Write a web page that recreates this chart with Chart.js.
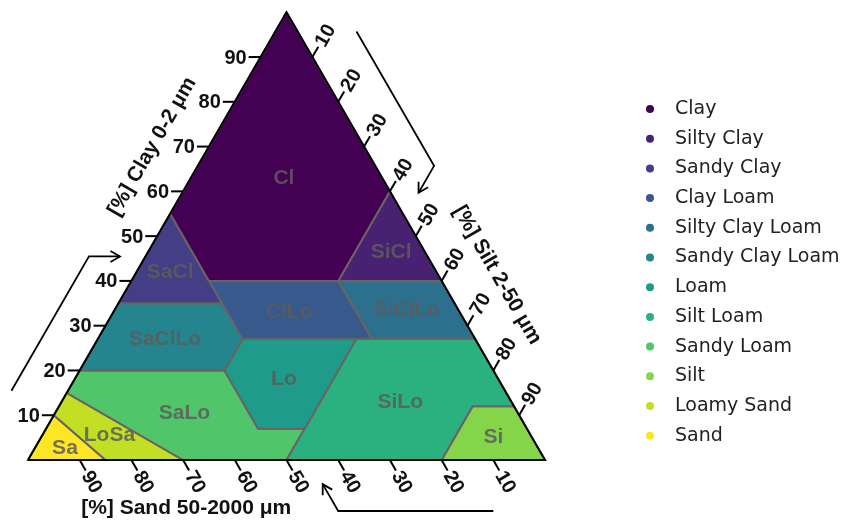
<!DOCTYPE html>
<html><head><meta charset="utf-8">
<script src="https://cdn.jsdelivr.net/npm/chart.js@4/dist/chart.umd.min.js"></script>
<style>html,body{margin:0;padding:0;background:#fff}#wrap{width:842px;height:523px}</style>
</head><body><div id="wrap"><canvas id="c" width="842" height="523"></canvas></div>
<script>
// Soil texture classes
const classNames = ["Clay","Silty Clay","Sandy Clay","Clay Loam","Silty Clay Loam","Sandy Clay Loam","Loam","Silt Loam","Sandy Loam","Silt","Loamy Sand","Sand"];
const classAbbr  = ["Cl","SiCl","SaCl","ClLo","SiClLo","SaClLo","Lo","SiLo","SaLo","Si","LoSa","Sa"];
const classColors = ["#440154","#482173","#433E85","#38598C","#2D708E","#25858E","#1E9B8A","#2BB07F","#51C56A","#85D54A","#C2DF23","#FDE725"];

// Polygons as [sand %, clay %] vertices
const polyClay          = [[0,100],[45,55],[45,40],[20,40],[0,60]];
const polySiltyClay     = [[0,60],[20,40],[0,40]];
const polySandyClay     = [[45,55],[65,35],[45,35],[45,40]];
const polyClayLoam      = [[45,40],[20,40],[20,27],[45,27],[45,35]];
const polySiltyClayLoam = [[20,40],[0,40],[0,27],[20,27]];
const polySandyClayLoam = [[65,35],[80,20],[52,20],[45,27],[45,35]];
const polyLoam          = [[45,27],[23,27],[43,7],[52,7],[52,20]];
const polySiltLoam      = [[23,27],[0,27],[0,12],[8,12],[20,0],[50,0],[43,7]];
const polySandyLoam     = [[80,20],[85,15],[70,0],[50,0],[43,7],[52,7],[52,20]];
const polySilt          = [[0,12],[0,0],[20,0],[8,12]];
const polyLoamySand     = [[85,15],[90,10],[85,0],[70,0]];
const polySand          = [[90,10],[100,0],[85,0]];

// Label positions [sand %, clay %]
const labelPos = [[19,63],[6.5,46.5],[51.5,42],[33,33],[10,33.5],[60,27],[41.5,18],[21.5,13],[64.5,10.5],[7.5,5],[81.5,5.5],[91.5,2.7]];

const tickValues = [10,20,30,40,50,60,70,80,90];
const arrowRange = [10,40];
const outline = [[100,0],[0,0],[0,100],[100,0]];

const polys = [polyClay,polySiltyClay,polySandyClay,polyClayLoam,polySiltyClayLoam,polySandyClayLoam,polyLoam,polySiltLoam,polySandyLoam,polySilt,polyLoamySand,polySand];

const S3 = Math.sqrt(3)/2;
const toXY = (sand, clay) => ({x: 100 - sand - clay/2, y: clay*S3});

// view mapping
const K = 5.17, LEFT = 28, BASE = 460, W = 842, H = 523;

const datasets = polys.map((p,i)=>({
  label: classNames[i],
  data: p.concat([p[0]]).map(([s,c])=>toXY(s,c)),
  showLine: true, fill: 'shape', backgroundColor: classColors[i],
  borderColor: '#6b6363', borderWidth: 2, pointRadius: 0, tension: 0, order: 2
}));
datasets.push({label:'outline', data: outline.map(([s,c])=>toXY(s,c)), showLine:true, fill:false,
  borderColor:'#000', borderWidth:2, pointRadius:0, tension:0, order:0});

const decor = {
  id: 'decor',
  afterDraw(chart){
    const ctx = chart.ctx, xs = chart.scales.x, ys = chart.scales.y;
    const P = (s,c) => { const d = toXY(s,c); return [xs.getPixelForValue(d.x), ys.getPixelForValue(d.y)]; };
    ctx.save();
    // region labels
    ctx.font = 'bold 21px "Liberation Sans", Arial, sans-serif';
    ctx.textAlign = 'center'; ctx.textBaseline = 'middle';
    ctx.fillStyle = 'rgba(92,92,92,0.85)';
    labelPos.forEach(([s,c],i)=>{ const [x,y]=P(s,c); ctx.fillText(classAbbr[i], x, y); });

    // ticks
    const TL = 12;
    ctx.strokeStyle = '#000'; ctx.lineWidth = 2; ctx.fillStyle = '#111';
    ctx.font = 'bold 20px "Liberation Sans", Arial, sans-serif';
    const axes = [
      {pt: v => P(100-v, v), dir: [-1,0], rot: 0, align: 'right'},
      {pt: v => P(v, 0), dir: [0.5, 0.866], rot: Math.PI/3, align: 'left'},
      {pt: v => P(0, 100-v), dir: [0.5, -0.866], rot: -Math.PI/3, align: 'left'}
    ];
    axes.forEach(a=>{
      tickValues.forEach(v=>{
        const [x,y] = a.pt(v);
        const ex = x + a.dir[0]*TL, ey = y + a.dir[1]*TL;
        ctx.beginPath(); ctx.moveTo(x,y); ctx.lineTo(ex,ey); ctx.stroke();
        ctx.save();
        ctx.translate(ex + a.dir[0]*2, ey + a.dir[1]*2);
        ctx.rotate(a.rot);
        ctx.textAlign = a.align; ctx.textBaseline = 'middle';
        ctx.fillText(String(v), 0, 1);
        ctx.restore();
      });
    });

    // axis titles
    ctx.font = 'bold 21px "Liberation Sans", Arial, sans-serif';
    ctx.textAlign = 'center'; ctx.textBaseline = 'middle';
    const titles = [
      {t: '[%] Clay 0-2 \u03bcm', pt: P(35.5, 64.5), n: [-0.866,-0.5], off: 49, rot: -Math.PI/3},
      {t: '[%] Silt 2-50 \u03bcm', pt: P(0, 35.6), n: [0.866,-0.5], off: 51, rot: Math.PI/3},
      {t: '[%] Sand 50-2000 \u03bcm', pt: P(69.4, 0), n: [0,1], off: 48, rot: 0}
    ];
    titles.forEach(o=>{
      ctx.save();
      ctx.translate(o.pt[0]+o.n[0]*o.off, o.pt[1]+o.n[1]*o.off);
      ctx.rotate(o.rot);
      ctx.fillText(o.t, 0, 0);
      ctx.restore();
    });

    // arrows
    ctx.lineWidth = 1.8;
    const arrows = [
      {a: P(100-arrowRange[0], arrowRange[0]), b: P(100-arrowRange[1], arrowRange[1]), n: [-0.866,-0.5], off: 49, bend: [1,0]},
      {a: P(0, 100-arrowRange[0]), b: P(0, 100-arrowRange[1]), n: [0.866,-0.5], off: 51, bend: [-0.5,0.866]},
      {a: P(arrowRange[0], 0), b: P(arrowRange[1], 0), n: [0,1], off: 51, bend: [-0.5,-0.866]}
    ];
    arrows.forEach(o=>{
      const x1 = o.a[0]+o.n[0]*o.off, y1 = o.a[1]+o.n[1]*o.off;
      const x2 = o.b[0]+o.n[0]*o.off, y2 = o.b[1]+o.n[1]*o.off;
      const x3 = x2 + o.bend[0]*31, y3 = y2 + o.bend[1]*31;
      ctx.beginPath(); ctx.moveTo(x1,y1); ctx.lineTo(x2,y2); ctx.lineTo(x3,y3); ctx.stroke();
      const ang = Math.atan2(o.bend[1], o.bend[0]);
      const hl = 11, ha = Math.PI/6;
      ctx.beginPath();
      ctx.moveTo(x3 - hl*Math.cos(ang-ha), y3 - hl*Math.sin(ang-ha));
      ctx.lineTo(x3, y3);
      ctx.lineTo(x3 - hl*Math.cos(ang+ha), y3 - hl*Math.sin(ang+ha));
      ctx.stroke();
    });

    // legend
    ctx.font = '19px "DejaVu Sans", sans-serif';
    ctx.textAlign = 'left'; ctx.textBaseline = 'middle';
    classNames.forEach((nm,i)=>{
      const y = 109 + i*29.7;
      ctx.fillStyle = classColors[i];
      ctx.beginPath(); ctx.arc(650, y, 4, 0, Math.PI*2); ctx.fill();
      ctx.fillStyle = '#222';
      ctx.fillText(nm, 675, y);
    });
    ctx.restore();
  }
};

new Chart(document.getElementById('c'), {
  type: 'scatter',
  data: { datasets },
  options: {
    responsive: false, animation: false, devicePixelRatio: 1,
    layout: { padding: 0 },
    scales: {
      x: { type: 'linear', display: false, min: -LEFT/K, max: (W-LEFT)/K },
      y: { type: 'linear', display: false, min: -(H-BASE)/K, max: BASE/K }
    },
    plugins: { legend: { display: false }, tooltip: { enabled: false } },
    elements: { line: { borderJoinStyle: 'miter' } }
  },
  plugins: [decor]
});
</script>
</body></html>
